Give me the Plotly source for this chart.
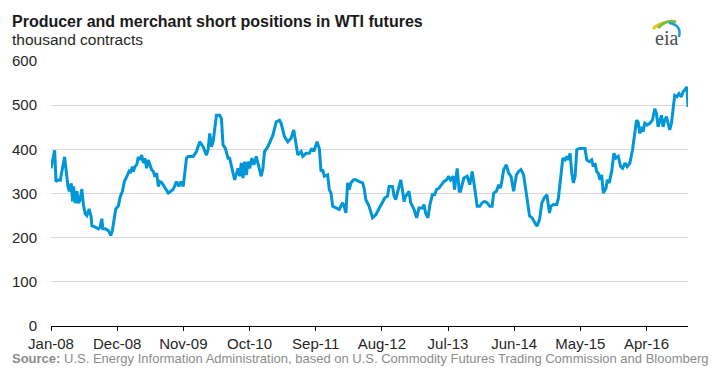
import plotly.graph_objects as go

# x positions: months since Jan 2008
months = [
    0.0, 0.61, 0.83, 1.27, 1.55, 2.26, 2.82, 3.04, 3.37, 3.59, 3.76, 4.03, 4.31, 4.58, 4.86, 5.13,
    5.41, 5.69, 5.96, 6.35, 6.68, 6.79, 7.35, 7.9, 8.17, 8.45, 8.61, 9.0, 9.56, 9.94, 10.2, 10.55,
    10.77, 11.2, 11.48, 11.87, 12.2, 12.59, 12.97, 13.2, 13.53, 13.7, 13.96, 14.25, 14.53, 14.79,
    15.07, 15.35, 15.62, 15.9, 16.18, 16.45, 16.73, 17.01, 17.28, 17.56, 17.84, 18.1,
    18.39, 19.5, 20.3, 20.87, 21.25, 21.59, 21.98, 22.53, 22.8, 23.64, 24.18, 24.73, 25.29, 25.84,
    26.12, 26.39, 26.67, 26.95, 27.22, 27.5, 28.05, 28.33, 28.6, 28.99, 29.43, 29.7,
    30.53, 30.81, 31.09, 31.36, 31.64, 31.92, 32.19, 32.47, 32.75, 33.02, 33.41, 33.74, 34.12,
    34.4, 34.95, 35.23, 35.5, 36.06, 36.33, 36.89, 37.44, 37.98, 38.26, 38.81, 39.37, 39.92,
    40.36, 40.75, 41.03, 41.58, 41.86, 42.41, 42.95, 43.35, 43.68, 44.23, 44.61, 44.89, 45.17,
    45.44, 45.99, 46.27, 46.55, 46.83, 47.38, 47.92, 48.48, 48.75, 49.03, 49.31, 49.58, 49.86,
    50.3, 50.69, 51.24, 51.8, 52.06, 52.34, 52.89, 53.45, 54.0, 54.55, 55.11, 55.49, 55.94,
    56.2, 56.77, 57.03, 57.31, 57.6, 58.14, 58.42, 58.69, 58.97, 59.52, 59.8, 60.35, 60.79,
    61.17, 61.74, 62.0, 62.28, 62.66, 63.0, 63.39, 63.77, 64.1, 64.49, 64.88, 65.31, 65.76,
    66.14, 66.42, 66.87, 67.09, 67.53, 67.87,
    68.08, 68.63, 69.19, 69.62, 70.02, 70.4, 70.85, 71.28, 71.67, 72.06, 72.5, 72.94, 73.33,
    73.6, 74.04, 74.43, 74.71, 74.99, 75.25, 75.7, 76.08, 76.48, 76.91, 77.36, 77.74, 78.13,
    78.57, 78.85, 79.13, 79.56, 79.96, 80.34, 80.79, 81.22, 81.61, 82.0, 82.44, 82.87, 83.1,
    83.53, 84.09, 84.36, 84.76, 85.09, 85.47, 85.75, 86.02, 86.3, 86.58, 86.85, 87.13, 87.41,
    87.84, 88.4, 88.78, 89.07, 89.5, 89.89, 90.16, 90.44, 90.72, 90.99, 91.27, 91.55, 91.82,
    92.27, 92.48, 92.81, 93.21, 93.59, 93.92, 94.3, 94.7, 95.03, 95.41, 95.79, 96.24, 96.68,
    97.07, 97.35, 97.61, 97.89, 98.17, 98.44, 98.72, 99.1, 99.55, 99.99, 100.38, 100.66,
    100.93, 101.21, 101.49, 101.76, 102.04, 102.32, 102.58, 102.86, 103.15, 103.41, 103.69,
    104.07, 104.41, 104.8, 105.07, 105.48, 105.73, 105.9,
]

# producer and merchant short positions, thousand contracts
short_positions = [
    357, 398, 327, 331, 330, 383, 316, 305, 323, 282, 316, 278, 305, 278, 286, 310,
    272, 254, 250, 265, 246, 227, 224, 220, 224, 243, 220, 220, 216, 205, 216, 246,
    265, 272, 291, 305, 327, 338, 350, 346, 361, 350, 361, 365, 383, 376,
    387, 369, 380, 357, 376, 365, 354, 350, 338, 346, 316, 327,
    325, 301, 309, 327, 316, 327, 316, 380, 384, 384, 395, 417, 406, 387,
    399, 436, 406, 417, 451, 477, 477, 470, 410, 402, 380, 380,
    331, 346, 357, 339, 369, 335, 372, 342, 372, 357, 380, 365, 384,
    369, 339, 357, 395, 406, 414, 432, 462, 466, 459, 429, 417, 425,
    444, 406, 387, 395, 384, 391, 391, 402, 395, 417, 402, 350, 354,
    339, 342, 309, 301, 271, 267, 264, 279, 271, 256, 324, 309, 324,
    331, 331, 327, 324, 312, 286, 271, 245, 252, 267, 279, 290, 294,
    316, 316, 294, 286, 301, 331, 309, 282, 294, 305, 279, 264, 245,
    267, 267, 275, 256, 245, 275, 297, 297, 309, 312, 320, 327, 331,
    339, 331, 339, 309, 357, 305,
    305, 335, 339, 320, 350, 316, 271, 271, 279, 282, 279, 271, 271,
    301, 305, 320, 312, 331, 354, 365, 346, 339, 305, 342, 350, 354,
    342, 316, 286, 249, 245, 237, 226, 241, 279, 290, 297, 256, 271,
    275, 275, 290, 346, 380, 376, 384, 376, 391, 346, 324, 339, 399,
    402, 402, 402, 376, 372, 376, 361, 369, 350, 346, 331, 342, 301,
    312, 331, 324, 350, 391, 380, 384, 361, 357, 369, 361, 369, 399,
    440, 466, 462, 436, 451, 440, 459, 455, 459, 466, 492, 481,
    451, 462, 477, 451, 466, 474, 459, 444, 459, 489, 522,
    519, 526, 519, 530, 537, 541, 496,
]

tick_months = [0, 11, 22, 33, 44, 55, 66, 77, 88, 99]
tick_labels = ["Jan-08", "Dec-08", "Nov-09", "Oct-10", "Sep-11", "Aug-12",
               "Jul-13", "Jun-14", "May-15", "Apr-16"]
y_ticks = [0, 100, 200, 300, 400, 500, 600]

FONT = "Liberation Sans, Arial, sans-serif"

fig = go.Figure()
fig.add_trace(go.Scatter(
    x=months, y=short_positions, mode="lines",
    line=dict(color="#0096d7", width=3),
    hoverinfo="skip", showlegend=False,
))

fig.update_layout(
    width=720, height=377,
    margin=dict(l=49, r=32, t=61, b=51),
    paper_bgcolor="white", plot_bgcolor="white",
    font=dict(family=FONT, color="#262626", size=15),
    showlegend=False,
)
fig.update_xaxes(
    range=[0, max(months)],
    tickmode="array", tickvals=tick_months, ticktext=tick_labels,
    showgrid=False, zeroline=False,
    showline=True, linecolor="#000000", linewidth=1,
    ticks="outside", ticklen=4, tickcolor="#000000", tickwidth=1,
    tickfont=dict(size=15, color="#262626", family=FONT),
    fixedrange=True,
)
fig.update_yaxes(
    range=[0, 600], tickmode="array", tickvals=y_ticks,
    showgrid=True, gridcolor="#d9d9d9", gridwidth=1,
    zeroline=False, showline=False, ticks="",
    ticklabelstandoff=13,
    tickfont=dict(size=15, color="#262626", family=FONT),
    fixedrange=True,
)

def px_x(x):
    return (x - 49) / 639.0

def px_y(y):
    return (326 - y) / 265.0

fig.add_annotation(
    text="<b>Producer and merchant short positions in WTI futures</b>",
    xref="paper", yref="paper", x=px_x(8), y=px_y(21),
    xanchor="left", yanchor="middle", showarrow=False,
    font=dict(size=16, color="#1a1a1a", family=FONT),
)
fig.add_annotation(
    text="thousand contracts",
    xref="paper", yref="paper", x=px_x(8), y=px_y(39),
    xanchor="left", yanchor="middle", showarrow=False,
    font=dict(size=15.5, color="#262626", family=FONT),
)
fig.add_annotation(
    text="<b>Source:</b> U.S. Energy Information Administration, based on U.S. Commodity Futures Trading Commission and Bloomberg",
    xref="paper", yref="paper", x=px_x(8), y=px_y(358),
    xanchor="left", yanchor="middle", showarrow=False,
    font=dict(size=13, color="#8c8c8c", family=FONT),
)

# eia logo
fig.add_annotation(
    text="eia", xref="paper", yref="paper", x=px_x(666), y=px_y(38),
    xanchor="center", yanchor="middle", showarrow=False,
    font=dict(size=20, color="#4d4d4d", family="Liberation Serif, DejaVu Serif, serif"),
)
def qpath(p0, c, p1):
    return "M {},{} Q {},{} {},{}".format(px_x(p0[0]), px_y(p0[1]), px_x(c[0]), px_y(c[1]),
                                           px_x(p1[0]), px_y(p1[1]))
fig.add_shape(type="path", xref="paper", yref="paper",
              path=qpath((653, 29), (657, 24), (664, 23)),
              line=dict(color="#f2c318", width=3))
fig.add_shape(type="path", xref="paper", yref="paper",
              path=qpath((658, 28), (666, 19), (676, 22)),
              line=dict(color="#7cbf3f", width=3))
fig.add_shape(type="path", xref="paper", yref="paper",
              path=qpath((669, 23), (682, 25), (679, 37)),
              line=dict(color="#1f9ad6", width=2.5))

fig.write_html(
    "out.html",
    config={"displayModeBar": False, "staticPlot": True},
    post_script="document.body.style.margin='0';document.body.style.padding='0';",
)
